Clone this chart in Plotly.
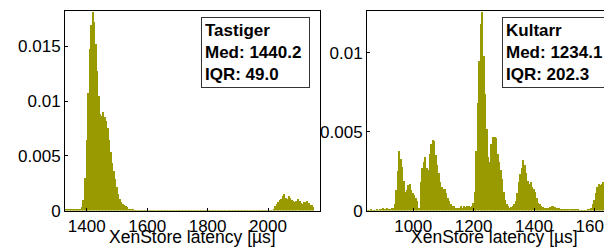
import plotly.graph_objects as go

# ---------------- data ----------------
# Left panel: Tastiger, histogram bins of 5 us (bin centers)
tastiger_start = 1330
tastiger_vals = [
    0.0001, 0.00012, 0.00008, 0.0001, 0.00012, 0.0001, 0.00008, 0.0001, 0.00012, 0.0001,
    0.00015, 0.0003, 0.0010, 0.0030, 0.0065, 0.0108, 0.0148, 0.0170, 0.0182, 0.0172,
    0.0152, 0.0128, 0.0105, 0.0088, 0.0087, 0.0090, 0.0086, 0.0082, 0.0076, 0.0065,
    0.0054, 0.0044, 0.0036, 0.0029, 0.0022, 0.0015, 0.0011, 0.0008, 0.0006, 0.0005,
    0.0004, 0.0003, 0.0002, 0.00015, 0.0001,
    0.00008, 0.00006, 0.00005, 0.00004, 0.00005, 0.00003, 0.00004, 0.00005, 0.00003, 0.00004,
    0.00003, 0.00004, 0.00005, 0.00003, 0.00004, 0.00003, 0.00004, 0.00003, 0.00003, 0.00004,
    0.00003, 0.00004, 0.00003, 0.00003, 0.00004, 0.00003, 0.00004, 0.00003, 0.00003, 0.00004,
    0.00005, 0.00003, 0.00004, 0.00003, 0.00003, 0.00004, 0.00003, 0.00004, 0.00003, 0.00003,
    0.00004, 0.00003, 0.00004, 0.00003, 0.00003, 0.00004, 0.00003, 0.00004, 0.00003, 0.00003,
    0.00004, 0.00003, 0.00004, 0.00003, 0.00003, 0.00004, 0.00003, 0.00004, 0.00003, 0.00003,
    0.00004, 0.00003, 0.00004, 0.00003, 0.00003, 0.00004, 0.00003, 0.00004, 0.00003, 0.00003,
    0.00004, 0.00003, 0.00004, 0.00003, 0.00003, 0.00004, 0.00003, 0.00004, 0.00003, 0.00003,
    0.00004, 0.00003, 0.00004, 0.00003, 0.00003, 0.00004, 0.00003, 0.00004, 0.00003, 0.00005,
    0.00004, 0.00005, 0.00004,
    0.0002, 0.0004, 0.0006, 0.0008, 0.0010, 0.0011, 0.0013, 0.0015, 0.0012, 0.0011,
    0.0013, 0.0012, 0.0010, 0.0009, 0.0008, 0.0009, 0.0011, 0.0009, 0.0007, 0.0006,
    0.0008, 0.0008, 0.0009, 0.0007, 0.0005, 0.0005, 0.0003,
]
tastiger_x = [tastiger_start + 5 * i for i in range(len(tastiger_vals))]

# Right panel: Kultarr, histogram bins of 5 us (bin centers)
kultarr_start = 850
kultarr_vals = [
    0.00003, 0.00003, 0.00005, 0.00002, 0.00004, 0.00003, 0.00005, 0.00004, 0.00006, 0.0001,
    0.00015, 0.0001, 0.00012, 0.00015, 0.0001, 0.00012, 0.00015, 0.0002, 0.0004, 0.0013,
    0.0025, 0.0038, 0.0033, 0.0028, 0.0019, 0.0012, 0.0013, 0.0016, 0.0017, 0.0013,
    0.0011, 0.0010, 0.0008, 0.0006, 0.0002, 0.0018, 0.0027, 0.0031, 0.0034, 0.0027,
    0.0026, 0.0036, 0.0042, 0.0045, 0.0044, 0.0035, 0.0029, 0.0024, 0.0018, 0.0015,
    0.0014, 0.0014, 0.0011, 0.0008, 0.0006, 0.0004, 0.0003, 0.0003, 0.0002, 0.0002,
    0.00015, 0.0002, 0.0003, 0.0002, 0.0003, 0.00025, 0.0003, 0.0003, 0.00025, 0.0003,
    0.0005, 0.0012, 0.0038, 0.0068, 0.0095, 0.0118, 0.0126, 0.0098, 0.0074, 0.0052,
    0.0034, 0.0031, 0.0042, 0.0047, 0.0047, 0.0046, 0.0036, 0.0031, 0.0026, 0.0020,
    0.0012, 0.0007, 0.0004, 0.0003, 0.0002, 0.00025, 0.0003, 0.0004, 0.0006, 0.0011,
    0.0018, 0.0023, 0.0027, 0.0032, 0.0029, 0.0024, 0.0019, 0.0017, 0.0018, 0.0015,
    0.0014, 0.0012, 0.0008, 0.0005, 0.0004, 0.0003, 0.00025, 0.0002, 0.0002, 0.00015,
    0.0002, 0.00025, 0.0003, 0.0003, 0.00025, 0.0002, 0.0002, 0.00015, 0.0001, 0.0001,
    0.00007, 0.0001, 0.00008, 0.0001, 0.00006, 0.0001, 0.00006, 0.00008, 0.00005, 0.00005,
    0.00003, 0.00004, 0.00003, 0.00003, 0.00004, 0.00003, 0.00005, 0.0001, 0.0002, 0.0004,
    0.0007, 0.0011, 0.0015, 0.0017, 0.0016, 0.0017, 0.0018, 0.0019, 0.0012, 0.0012,
    0.0011, 0.0010, 0.0012, 0.0010, 0.0011, 0.0009, 0.0007, 0.0008, 0.0007,
]
kultarr_x = [kultarr_start + 5 * i for i in range(len(kultarr_vals))]

bin_width = 5

left_xticks = [1400, 1600, 1800, 2000]
right_xticks = [1000, 1200, 1400, 1600]
left_yticks = [0, 0.005, 0.01, 0.015]
left_yticktext = ["0", "0.005", "0.01", "0.015"]
right_yticks = [0, 0.005, 0.01]
right_yticktext = ["0", "0.005", "0.01"]

left_label = ["Tastiger", "Med: 1440.2", "IQR: 49.0"]
right_label = ["Kultarr", "Med: 1234.1", "IQR: 202.3"]
x_title = "XenStore latency [µs]"

# ---------------- figure ----------------
W, H = 612, 251
BAR = "#999900"
FONT = "Liberation Sans"

fig = go.Figure()
fig.add_trace(go.Bar(x=tastiger_x, y=tastiger_vals, width=bin_width,
                     marker=dict(color=BAR, line=dict(width=0)),
                     xaxis="x", yaxis="y", showlegend=False, hoverinfo="skip"))
fig.add_trace(go.Bar(x=kultarr_x, y=kultarr_vals, width=bin_width,
                     marker=dict(color=BAR, line=dict(width=0)),
                     xaxis="x2", yaxis="y2", showlegend=False, hoverinfo="skip"))

ydom = [(H - 211) / H, (H - 3) / H]
tickfont = dict(family=FONT, size=17, color="black")
common_x = dict(showgrid=False, zeroline=False, showline=True, linecolor="black",
                linewidth=1, mirror=True, ticks="inside", ticklen=3, tickcolor="black",
                tickfont=tickfont)
common_y = dict(showgrid=False, zeroline=False, showline=True, linecolor="black",
                linewidth=1, ticks="inside", ticklen=3, tickcolor="black",
                tickfont=tickfont)

fig.update_layout(
    width=W, height=H,
    margin=dict(l=0, r=0, t=0, b=0),
    paper_bgcolor="white", plot_bgcolor="white",
    bargap=0,
    xaxis=dict(domain=[57 / W, 312 / W], range=[1328, 2172], anchor="y",
               tickvals=left_xticks, **common_x),
    yaxis=dict(domain=ydom, range=[0, 0.01825], anchor="x", mirror=True,
               tickvals=left_yticks, ticktext=left_yticktext, **common_y),
    xaxis2=dict(domain=[359 / W, 1.0], range=[847, 847 + 253 / 0.302], anchor="y2",
                tickvals=right_xticks, **common_x),
    yaxis2=dict(domain=ydom, range=[0, 0.01265], anchor="x2", mirror=False,
                tickvals=right_yticks, ticktext=right_yticktext, **common_y),
)

annots = [
    dict(text="<br>".join(f"<b>{s}</b>" for s in left_label), x=193 / W, y=1 - 9 / H),
    dict(text="<br>".join(f"<b>{s}</b>" for s in right_label), x=494 / W, y=1 - 9 / H),
]
for a in annots:
    fig.add_annotation(text=a["text"], xref="paper", yref="paper", x=a["x"], y=a["y"],
                       xanchor="left", yanchor="top", align="left", showarrow=False,
                       width=101, borderpad=3, bordercolor="#333333", borderwidth=1,
                       bgcolor="white", font=dict(family=FONT, size=17, color="black"))

for cx in [(57 + 312) / 2, (359 + 614) / 2]:
    fig.add_annotation(text=x_title, xref="paper", yref="paper", x=cx / W, y=0,
                       xanchor="center", yanchor="bottom", showarrow=False,
                       font=dict(family=FONT, size=17.5, color="black"))

fig.write_html("out.html")
